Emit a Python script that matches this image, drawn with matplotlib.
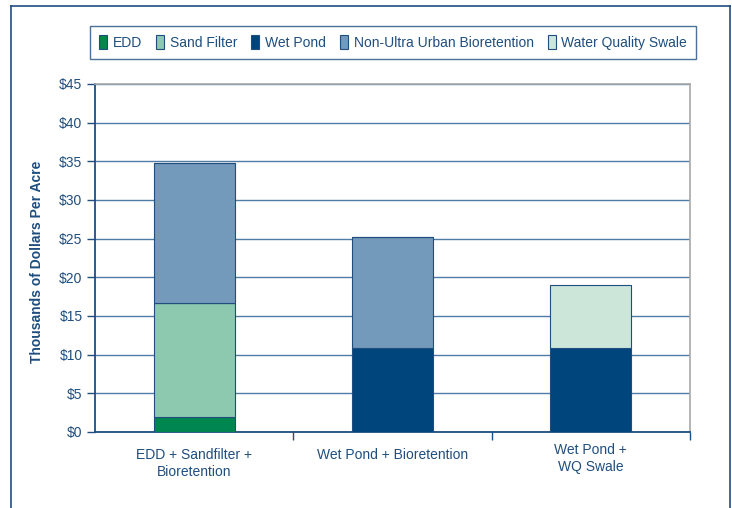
import matplotlib
matplotlib.use("Agg")
import matplotlib.pyplot as plt
from matplotlib.lines import Line2D
import numpy as np

plt.rcParams['font.family'] = ['Liberation Sans', 'DejaVu Sans']

categories = ["EDD + Sandfilter +\nBioretention", "Wet Pond + Bioretention", "Wet Pond +\nWQ Swale"]
series_names = ["EDD", "Sand Filter", "Wet Pond", "Non-Ultra Urban Bioretention", "Water Quality Swale"]
edd = [2.0, 0.0, 0.0]
sand_filter = [14.7, 0.0, 0.0]
wet_pond = [0.0, 10.8, 10.8]
bioretention = [18.1, 14.4, 0.0]
wq_swale = [0.0, 0.0, 8.2]
y_ticks = [0, 5, 10, 15, 20, 25, 30, 35, 40, 45]

colors = ["#00874f", "#8cc9ae", "#00457c", "#7399bb", "#cce6da"]
text_c = "#1f4e7f"
edge_c = "#1f4e7f"

fig = plt.figure(figsize=(7.32, 5.08), dpi=100)
ax = fig.add_axes([95/732, 1-432/508, 595/732, (432-84)/508])

x = np.arange(len(categories))
bottom = np.zeros(len(categories))
series = [edd, sand_filter, wet_pond, bioretention, wq_swale]
handles = []
for name, vals, c in zip(series_names, series, colors):
    vals = np.array(vals)
    b = ax.bar(x, vals, width=0.41, bottom=bottom, color=c, edgecolor=edge_c,
               linewidth=0.8, label=name, zorder=3)
    handles.append(b)
    bottom = bottom + vals

ax.set_xlim(-0.5, 2.5)
ax.set_ylim(0, 45)
ax.set_yticks(y_ticks)
ax.set_yticklabels([f"${v}" for v in y_ticks], fontsize=10, color=text_c)
ax.yaxis.grid(True, color="#4f7ba5", linewidth=1.0, zorder=0)
ax.set_axisbelow(True)

ax.set_xticks(x)
ax.set_xticklabels([])
ax.tick_params(axis='x', which='major', length=0)
ax.set_xticks([0.5, 1.5, 2.5], minor=True)
ax.tick_params(axis='x', which='minor', length=6, width=1, color=edge_c, direction='out')
ax.tick_params(axis='y', length=6, width=1, color=edge_c, pad=3, direction='out')

# category labels (first-line centres in pixels below the axis)
offsets_px = [23, 23, 18]
for xi, cat, off in zip(x, categories, offsets_px):
    ax.annotate(cat, xy=(xi, 0), xycoords=('data', 'axes fraction'),
                xytext=(0, -(off - 7) * 0.72), textcoords='offset points',
                ha='center', va='top', fontsize=10, color=text_c,
                linespacing=1.3)

for s in ['left', 'bottom']:
    ax.spines[s].set_color(edge_c)
    ax.spines[s].set_linewidth(1.3)
for s in ['top', 'right']:
    ax.spines[s].set_color("#a8a8a8")
    ax.spines[s].set_linewidth(1.2)

fig.text(37/732, 1-262/508, "Thousands of Dollars Per Acre", rotation=90,
         ha='center', va='center', fontsize=10, fontweight='bold', color=text_c)

leg = fig.legend(handles=handles, labels=series_names, loc='center',
                 bbox_to_anchor=(393/732, 1-42.5/508), ncol=5, fontsize=10,
                 frameon=True, fancybox=False, edgecolor=edge_c,
                 handlelength=0.6, handleheight=1.1, handletextpad=0.4,
                 columnspacing=1.0, borderpad=0.65)
leg.get_frame().set_linewidth(1.0)
for t in leg.get_texts():
    t.set_color(text_c)

# outer frame
fig.add_artist(Line2D([11/732, 11/732], [0, 1-6/508], transform=fig.transFigure, color=edge_c, lw=1.2))
fig.add_artist(Line2D([11/732, 730/732], [1-6/508, 1-6/508], transform=fig.transFigure, color=edge_c, lw=1.2))
fig.add_artist(Line2D([730/732, 730/732], [0, 1-6/508], transform=fig.transFigure, color=edge_c, lw=1.2))

fig.savefig("out.png", dpi=100)
